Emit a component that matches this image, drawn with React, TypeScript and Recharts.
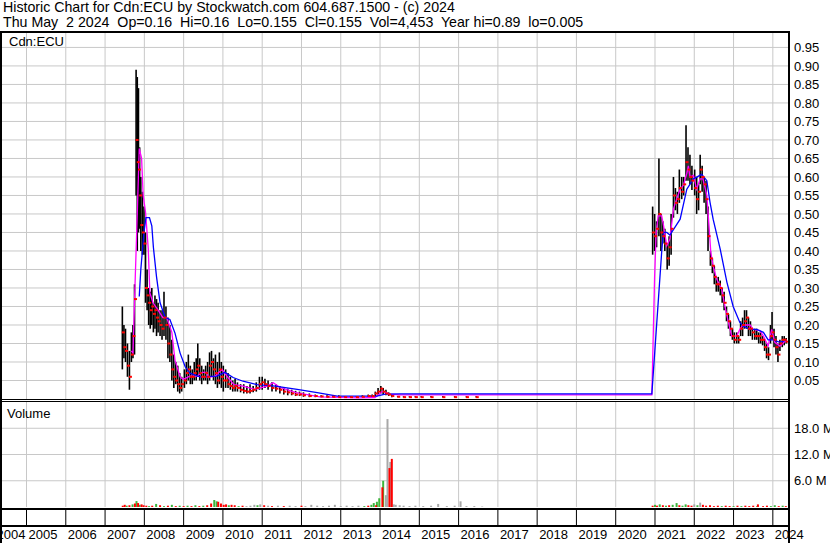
import React from 'react';
import { ComposedChart, Line, Scatter, ErrorBar, XAxis, YAxis, CartesianGrid } from 'recharts';

const FONT = 'Arial, "Liberation Sans", sans-serif';

// time axis, fractional years (left edge ~May 2004, right edge ~May 2024)
const T_MIN = 2004.376;
const T_MAX = 2024.386;
const years = [2005, 2006, 2007, 2008, 2009, 2010, 2011, 2012, 2013, 2014, 2015, 2016, 2017, 2018, 2019, 2020, 2021, 2022, 2023, 2024];
const priceTicks = [0.05, 0.1, 0.15, 0.2, 0.25, 0.3, 0.35, 0.4, 0.45, 0.5, 0.55, 0.6, 0.65, 0.7, 0.75, 0.8, 0.85, 0.9, 0.95];
const volTicks = [6, 12, 18];

// [time, high, low, close]
const bars2007 = [
  [2007.44, 0.25, 0.08, 0.18], [2007.48, 0.2, 0.11, 0.14], [2007.52, 0.19, 0.1, 0.13], [2007.57, 0.15, 0.06, 0.09],
  [2007.62, 0.13, 0.025, 0.06], [2007.67, 0.18, 0.1, 0.12], [2007.71, 0.2, 0.11, 0.17], [2007.75, 0.31, 0.12, 0.27],
  [2007.79, 0.89, 0.55, 0.7], [2007.82, 0.87, 0.4, 0.64], [2007.85, 0.84, 0.45, 0.62], [2007.88, 0.68, 0.46, 0.55],
  [2007.91, 0.6, 0.4, 0.47], [2007.95, 0.56, 0.39, 0.45], [2007.99, 0.52, 0.39, 0.42], [2008.03, 0.45, 0.26, 0.3],
  [2008.07, 0.35, 0.24, 0.28], [2008.11, 0.3, 0.2, 0.26], [2008.15, 0.29, 0.19, 0.24], [2008.19, 0.3, 0.2, 0.25],
  [2008.23, 0.26, 0.18, 0.23], [2008.27, 0.28, 0.19, 0.24], [2008.31, 0.27, 0.17, 0.22], [2008.35, 0.26, 0.18, 0.21],
  [2008.4, 0.24, 0.17, 0.2], [2008.45, 0.24, 0.16, 0.19], [2008.5, 0.29, 0.17, 0.22], [2008.55, 0.25, 0.16, 0.2],
  [2008.6, 0.22, 0.11, 0.15], [2008.65, 0.2, 0.1, 0.12], [2008.7, 0.16, 0.05, 0.08], [2008.75, 0.12, 0.03, 0.06],
  [2008.8, 0.1, 0.04, 0.05], [2008.85, 0.09, 0.02, 0.04], [2008.9, 0.07, 0.015, 0.03], [2008.95, 0.06, 0.02, 0.04],
];

const bars2009 = [
  [2009.02, 0.08, 0.03, 0.05], [2009.07, 0.1, 0.04, 0.07], [2009.12, 0.12, 0.05, 0.08], [2009.17, 0.09, 0.04, 0.06],
  [2009.22, 0.08, 0.04, 0.06], [2009.27, 0.1, 0.05, 0.07], [2009.32, 0.11, 0.05, 0.08], [2009.36, 0.15, 0.06, 0.09],
  [2009.41, 0.11, 0.05, 0.07], [2009.46, 0.09, 0.04, 0.06], [2009.51, 0.08, 0.05, 0.06], [2009.56, 0.09, 0.05, 0.07],
  [2009.61, 0.1, 0.04, 0.06], [2009.66, 0.126, 0.05, 0.09], [2009.71, 0.13, 0.06, 0.1], [2009.76, 0.11, 0.05, 0.08],
  [2009.81, 0.12, 0.04, 0.07], [2009.86, 0.1, 0.03, 0.05], [2009.91, 0.126, 0.04, 0.08], [2009.96, 0.1, 0.03, 0.06],
  [2010.01, 0.09, 0.02, 0.05], [2010.07, 0.08, 0.03, 0.05], [2010.13, 0.07, 0.03, 0.04], [2010.19, 0.06, 0.025, 0.035],
  [2010.25, 0.05, 0.02, 0.03], [2010.31, 0.055, 0.02, 0.035], [2010.37, 0.045, 0.02, 0.03], [2010.45, 0.04, 0.018, 0.025],
  [2010.53, 0.04, 0.015, 0.022], [2010.61, 0.035, 0.015, 0.02], [2010.69, 0.04, 0.015, 0.022], [2010.77, 0.035, 0.018, 0.025],
  [2010.85, 0.045, 0.02, 0.03], [2010.93, 0.06, 0.025, 0.04], [2011.0, 0.06, 0.025, 0.045], [2011.07, 0.055, 0.03, 0.04],
  [2011.15, 0.05, 0.025, 0.035], [2011.25, 0.045, 0.02, 0.03], [2011.35, 0.04, 0.02, 0.028], [2011.45, 0.035, 0.015, 0.025],
  [2011.55, 0.03, 0.012, 0.02], [2011.65, 0.028, 0.01, 0.018], [2011.75, 0.025, 0.01, 0.015], [2011.85, 0.022, 0.008, 0.012],
  [2011.95, 0.02, 0.008, 0.012], [2012.05, 0.018, 0.006, 0.01], [2012.2, 0.015, 0.005, 0.008], [2012.35, 0.012, 0.005, 0.008],
  [2012.5, 0.01, 0.005, 0.007], [2012.65, 0.01, 0.004, 0.006], [2012.8, 0.01, 0.004, 0.006], [2012.95, 0.01, 0.004, 0.005],
  [2013.1, 0.008, 0.004, 0.005], [2013.25, 0.008, 0.004, 0.005], [2013.4, 0.008, 0.004, 0.005], [2013.55, 0.01, 0.004, 0.006],
  [2013.7, 0.012, 0.005, 0.008], [2013.8, 0.012, 0.005, 0.008], [2013.88, 0.02, 0.008, 0.015], [2013.95, 0.03, 0.012, 0.02],
  [2014.02, 0.035, 0.015, 0.028], [2014.08, 0.03, 0.012, 0.02], [2014.15, 0.025, 0.01, 0.015], [2014.22, 0.018, 0.008, 0.012],
  [2014.3, 0.012, 0.005, 0.008], [2014.45, 0.008, 0.005, 0.006], [2014.6, 0.008, 0.004, 0.005], [2014.75, 0.008, 0.004, 0.005],
  [2014.9, 0.008, 0.004, 0.005], [2015.05, 0.008, 0.004, 0.005], [2015.3, 0.008, 0.004, 0.005], [2015.6, 0.008, 0.004, 0.005],
  [2015.9, 0.008, 0.004, 0.005], [2016.2, 0.008, 0.004, 0.005], [2016.45, 0.008, 0.004, 0.005],
];

const bars2020 = [
  [2020.94, 0.52, 0.39, 0.45], [2020.99, 0.5, 0.4, 0.44], [2021.04, 0.48, 0.41, 0.46], [2021.1, 0.65, 0.44, 0.5],
  [2021.15, 0.5, 0.4, 0.45], [2021.2, 0.48, 0.42, 0.44], [2021.25, 0.46, 0.4, 0.42], [2021.31, 0.42, 0.35, 0.38],
  [2021.36, 0.44, 0.36, 0.41], [2021.41, 0.5, 0.39, 0.46], [2021.47, 0.6, 0.49, 0.55], [2021.52, 0.57, 0.51, 0.53],
  [2021.57, 0.56, 0.5, 0.54], [2021.62, 0.62, 0.53, 0.57], [2021.68, 0.6, 0.54, 0.56], [2021.73, 0.6, 0.55, 0.58],
  [2021.79, 0.74, 0.59, 0.64], [2021.84, 0.68, 0.59, 0.62], [2021.89, 0.66, 0.58, 0.6], [2021.94, 0.63, 0.565, 0.59],
  [2022.01, 0.62, 0.55, 0.57], [2022.06, 0.6, 0.5, 0.54], [2022.11, 0.58, 0.51, 0.56], [2022.15, 0.66, 0.58, 0.62],
  [2022.2, 0.63, 0.56, 0.6], [2022.25, 0.6, 0.53, 0.58], [2022.3, 0.59, 0.5, 0.54], [2022.35, 0.52, 0.4, 0.44],
  [2022.41, 0.4, 0.36, 0.38], [2022.46, 0.38, 0.34, 0.36], [2022.51, 0.36, 0.31, 0.33], [2022.56, 0.33, 0.29, 0.31],
  [2022.61, 0.33, 0.29, 0.31], [2022.66, 0.32, 0.28, 0.3], [2022.71, 0.3, 0.26, 0.28], [2022.76, 0.29, 0.24, 0.26],
  [2022.82, 0.25, 0.21, 0.23], [2022.87, 0.23, 0.19, 0.21], [2022.92, 0.21, 0.17, 0.19], [2022.97, 0.19, 0.16, 0.17],
  [2023.02, 0.18, 0.15, 0.16], [2023.08, 0.18, 0.15, 0.17], [2023.13, 0.17, 0.15, 0.16], [2023.18, 0.21, 0.17, 0.19],
  [2023.23, 0.22, 0.17, 0.2], [2023.28, 0.24, 0.19, 0.21], [2023.33, 0.24, 0.19, 0.22], [2023.38, 0.22, 0.17, 0.19],
  [2023.43, 0.21, 0.17, 0.19], [2023.48, 0.19, 0.16, 0.18], [2023.54, 0.19, 0.16, 0.17], [2023.59, 0.19, 0.16, 0.17],
  [2023.64, 0.18, 0.15, 0.17], [2023.69, 0.18, 0.15, 0.16], [2023.74, 0.17, 0.145, 0.16], [2023.79, 0.16, 0.13, 0.14],
  [2023.84, 0.15, 0.11, 0.12], [2023.89, 0.14, 0.105, 0.12], [2023.94, 0.2, 0.15, 0.17], [2023.98, 0.235, 0.16, 0.18],
  [2024.03, 0.19, 0.14, 0.16], [2024.08, 0.17, 0.12, 0.14], [2024.13, 0.15, 0.1, 0.12], [2024.18, 0.16, 0.13, 0.15],
  [2024.24, 0.17, 0.14, 0.16], [2024.29, 0.17, 0.145, 0.16], [2024.34, 0.165, 0.15, 0.155],
];

// moving averages [time, value]
const fastMa = [
  [2007.67, 0.13], [2007.71, 0.124], [2007.76, 0.3], [2007.81, 0.468], [2007.87, 0.677], [2007.93, 0.65],
  [2007.97, 0.55], [2008.03, 0.505], [2008.1, 0.405], [2008.14, 0.287], [2008.22, 0.26], [2008.35, 0.24],
  [2008.47, 0.22], [2008.57, 0.22], [2008.7, 0.18], [2008.78, 0.105], [2008.91, 0.06], [2008.99, 0.053],
  [2009.16, 0.062], [2009.34, 0.062], [2009.47, 0.072], [2009.6, 0.072], [2009.62, 0.058], [2009.8, 0.062],
  [2009.98, 0.08], [2010.1, 0.062], [2010.28, 0.039], [2010.51, 0.035], [2010.82, 0.026], [2011.12, 0.035],
  [2011.28, 0.044], [2011.46, 0.031], [2011.86, 0.017], [2012.47, 0.006], [2013.49, 0.003], [2013.87, 0.004],
  [2014.07, 0.021], [2014.25, 0.013], [2014.5, 0.011], [2020.92, 0.011], [2020.99, 0.33], [2021.03, 0.45],
  [2021.08, 0.495], [2021.17, 0.495], [2021.21, 0.473], [2021.3, 0.414], [2021.38, 0.432], [2021.47, 0.513],
  [2021.55, 0.54], [2021.64, 0.567], [2021.72, 0.577], [2021.81, 0.61], [2021.85, 0.63], [2021.89, 0.6],
  [2021.98, 0.604], [2022.06, 0.567], [2022.15, 0.595], [2022.22, 0.595], [2022.32, 0.55], [2022.38, 0.46],
  [2022.42, 0.397], [2022.48, 0.36], [2022.57, 0.324], [2022.7, 0.297], [2022.78, 0.25], [2022.87, 0.207],
  [2022.95, 0.17], [2023.08, 0.17], [2023.16, 0.188], [2023.24, 0.2], [2023.42, 0.2], [2023.5, 0.188],
  [2023.67, 0.185], [2023.76, 0.17], [2023.88, 0.143], [2023.97, 0.188], [2024.05, 0.153], [2024.18, 0.143],
  [2024.35, 0.16],
];

const slowMa = [
  [2007.87, 0.277], [2007.91, 0.35], [2007.99, 0.45], [2008.04, 0.49], [2008.13, 0.49], [2008.19, 0.468],
  [2008.23, 0.41], [2008.31, 0.33], [2008.4, 0.26], [2008.53, 0.22], [2008.65, 0.215], [2008.78, 0.178],
  [2008.91, 0.124], [2009.04, 0.087], [2009.16, 0.07], [2009.42, 0.06], [2009.85, 0.062], [2010.05, 0.072],
  [2010.26, 0.058], [2010.51, 0.048], [2010.87, 0.039], [2011.33, 0.035], [2011.89, 0.026], [2012.4, 0.017],
  [2012.91, 0.008], [2013.92, 0.008], [2014.13, 0.013], [2014.5, 0.014], [2020.92, 0.014], [2021.17, 0.397],
  [2021.21, 0.45], [2021.3, 0.45], [2021.38, 0.443], [2021.64, 0.486], [2021.81, 0.567], [2021.98, 0.595],
  [2022.19, 0.607], [2022.32, 0.59], [2022.4, 0.532], [2022.48, 0.486], [2022.66, 0.405], [2022.83, 0.316],
  [2022.99, 0.25], [2023.16, 0.207], [2023.25, 0.197], [2023.42, 0.188], [2023.59, 0.188], [2023.76, 0.18],
  [2023.88, 0.16], [2024.01, 0.16], [2024.18, 0.153], [2024.35, 0.16],
];

// volume in millions [time, volume]
const volUp = [
  [2007.55, 0.3], [2007.7, 0.6], [2007.8, 1.35], [2007.88, 0.5], [2008.12, 0.2], [2008.3, 0.7], [2008.5, 0.2],
  [2008.7, 0.5], [2008.9, 0.3], [2009.1, 0.3], [2009.3, 0.4], [2009.5, 0.3], [2009.78, 1.6], [2009.84, 1.3],
  [2010.15, 0.4], [2010.4, 0.2], [2010.88, 0.4], [2013.6, 0.2], [2013.78, 0.5], [2013.84, 0.9], [2013.92, 1.2],
  [2013.98, 2.0], [2014.08, 6.0], [2021.0, 0.5], [2021.12, 0.6], [2021.28, 0.3], [2021.45, 0.5], [2021.55, 0.9],
  [2021.7, 0.3], [2021.78, 0.6], [2022.08, 0.4], [2022.7, 0.2], [2023.0, 0.2], [2023.2, 0.2], [2023.6, 0.2],
  [2023.95, 0.2], [2024.05, 0.4], [2024.25, 0.3],
];

const volDown = [
  [2007.45, 0.3], [2007.5, 0.5], [2007.62, 0.4], [2007.76, 0.8], [2007.84, 0.9], [2007.93, 0.6], [2007.98, 0.4],
  [2008.05, 0.3], [2008.2, 0.3], [2008.4, 0.4], [2008.6, 0.3], [2008.8, 0.2], [2009.0, 0.2], [2009.2, 0.2],
  [2009.4, 0.2], [2009.6, 0.4], [2009.7, 0.8], [2009.88, 1.2], [2009.95, 0.8], [2010.02, 0.5], [2010.08, 0.6],
  [2010.22, 0.5], [2010.3, 0.4], [2010.5, 0.3], [2011.05, 0.4], [2011.25, 0.2], [2011.55, 0.2], [2012.0, 0.3],
  [2013.7, 0.3], [2013.9, 0.4], [2014.06, 4.5], [2014.24, 8.9], [2014.3, 11.0], [2020.94, 0.3], [2021.05, 0.3],
  [2021.2, 0.4], [2021.36, 0.4], [2021.62, 0.4], [2021.85, 0.4], [2021.93, 0.3], [2022.22, 0.5], [2022.3, 0.3],
  [2022.4, 0.4], [2022.5, 0.2], [2022.6, 0.3], [2022.8, 0.3], [2022.9, 0.2], [2023.1, 0.3], [2023.3, 0.3],
  [2023.4, 0.2], [2023.5, 0.3], [2023.62, 0.6], [2023.75, 0.2], [2023.85, 0.3], [2024.15, 0.2], [2024.33, 0.2],
];

const volFlat = [
  [2010.6, 0.2], [2010.7, 0.3], [2010.8, 0.5], [2010.95, 0.6], [2011.15, 0.3], [2011.4, 0.3], [2011.7, 0.3],
  [2011.85, 0.2], [2012.1, 0.2], [2012.25, 0.5], [2012.4, 0.3], [2012.55, 0.2], [2012.7, 0.3], [2012.85, 0.5],
  [2013.0, 0.2], [2013.15, 0.3], [2013.3, 0.2], [2013.45, 0.3], [2014.15, 2.7], [2014.19, 20.1], [2014.26, 10.3],
  [2014.35, 0.6], [2014.4, 0.5], [2014.5, 0.4], [2014.6, 0.3], [2014.75, 0.2], [2014.9, 0.3], [2015.1, 0.2],
  [2015.3, 0.3], [2015.48, 0.7], [2015.7, 0.2], [2015.9, 0.3], [2016.05, 1.3], [2016.2, 0.2], [2016.4, 0.2],
  [2016.6, 0.1], [2022.0, 0.6], [2022.15, 1.0],
];

const priceRows = [...bars2007, ...bars2009, ...bars2020].map(([t, h, l, c]) => ({ t, c, err: [c - l, h - c] }));
const lineRows = (pts: number[][]) => pts.map(([t, v]) => ({ t, v }));
const volRows = (pts: number[][]) => pts.map(([t, v]) => ({ t, v, err: [v, 0] }));

const CloseMark = (p: any) => <rect x={p.cx - 0.5} y={p.cy - 1} width={3} height={2} fill="#FF0000" />;
const NoMark = () => <g />;

function YearTick({ x, y, payload }: any) {
  const yr = payload.value;
  return (
    <g>
      <line x1={x} x2={x} y1={y + 3} y2={y + 18} stroke="#000" />
      <text x={x + 2} y={y + 32} fontSize={13} fontFamily={FONT} fill="#000">{yr}</text>
      {yr === 2005 && (
        <text x={x - 1} y={y + 32} fontSize={13} fontFamily={FONT} fill="#000" textAnchor="end">2004</text>
      )}
    </g>
  );
}

function ValueTick({ x, y, payload, unit }: any) {
  const label = unit ? `${payload.value.toFixed(1)} M` : payload.value.toFixed(2);
  return (
    <text x={x} y={y} dy="0.355em" fontSize={13} fontFamily={FONT} fill="#000" textAnchor="start">{label}</text>
  );
}

const hline = (top: number, h: number) => (
  <div style={{ position: 'absolute', left: 0, top, width: 790, height: h, background: '#000' }} />
);

export default function App() {
  return (
    <div style={{ position: 'absolute', left: 0, top: 0, width: 830, height: 543, background: '#fff', overflow: 'hidden', fontFamily: FONT }}>
      <div style={{ position: 'absolute', left: 3, top: 0, fontSize: 14.2, lineHeight: '15px', whiteSpace: 'pre', color: '#000' }}>
        {'Historic Chart for Cdn:ECU by Stockwatch.com 604.687.1500 - (c) 2024\nThu May  2 2024  Op=0.16  Hi=0.16  Lo=0.155  Cl=0.155  Vol=4,453  Year hi=0.89  lo=0.005'}
      </div>

      <div style={{ position: 'absolute', left: 0, top: 33 }}>
        <ComposedChart width={830} height={366} margin={{ top: 0, right: 0, bottom: 0, left: 2 }}>
          <CartesianGrid stroke="#C8C8C8" horizontalValues={priceTicks} verticalValues={years} />
          <XAxis dataKey="t" type="number" domain={[T_MIN, T_MAX]} ticks={years} allowDataOverflow hide height={0} />
          <YAxis
            orientation="right"
            width={42}
            type="number"
            domain={[0, 0.989]}
            ticks={priceTicks}
            allowDataOverflow
            axisLine={false}
            tickLine={false}
            tickSize={4}
            tickMargin={2}
            interval={0}
            tick={<ValueTick />}
          />
          <Scatter data={priceRows} dataKey="c" shape={CloseMark} isAnimationActive={false}>
            <ErrorBar dataKey="err" direction="y" width={0} stroke="#000" strokeWidth={1.6} />
          </Scatter>
          <Line data={lineRows(fastMa)} dataKey="v" type="linear" stroke="#FF00FF" strokeWidth={1.3} dot={false} isAnimationActive={false} />
          <Line data={lineRows(slowMa)} dataKey="v" type="linear" stroke="#0000FF" strokeWidth={1.3} dot={false} isAnimationActive={false} />
        </ComposedChart>
      </div>

      <div style={{ position: 'absolute', left: 0, top: 402 }}>
        <ComposedChart width={830} height={141} margin={{ top: 0, right: 0, bottom: 0, left: 2 }}>
          <CartesianGrid stroke="#C8C8C8" horizontalValues={volTicks} verticalValues={years} />
          <XAxis
            dataKey="t"
            type="number"
            domain={[T_MIN, T_MAX]}
            ticks={years}
            interval={0}
            allowDataOverflow
            height={36}
            axisLine={false}
            tickLine={false}
            tickSize={0}
            tickMargin={0}
            tick={<YearTick />}
          />
          <YAxis
            orientation="right"
            width={42}
            type="number"
            domain={[0, 24]}
            ticks={volTicks}
            allowDataOverflow
            axisLine={false}
            tickLine={false}
            tickSize={4}
            tickMargin={2}
            interval={0}
            tick={<ValueTick unit />}
          />
          <Scatter data={volRows(volFlat)} dataKey="v" shape={NoMark} isAnimationActive={false}>
            <ErrorBar dataKey="err" direction="y" width={0} stroke="#A8A8A8" strokeWidth={2} />
          </Scatter>
          <Scatter data={volRows(volUp)} dataKey="v" shape={NoMark} isAnimationActive={false}>
            <ErrorBar dataKey="err" direction="y" width={0} stroke="#3CB43C" strokeWidth={2} />
          </Scatter>
          <Scatter data={volRows(volDown)} dataKey="v" shape={NoMark} isAnimationActive={false}>
            <ErrorBar dataKey="err" direction="y" width={0} stroke="#FF0000" strokeWidth={2} />
          </Scatter>
        </ComposedChart>
      </div>

      {/* panel frames */}
      {hline(31, 2)}
      {hline(399, 1)}
      {hline(401, 1)}
      {hline(508, 2)}
      {hline(525, 2)}
      <div style={{ position: 'absolute', left: 0, top: 31, width: 2, height: 512, background: '#000' }} />
      <div style={{ position: 'absolute', left: 788, top: 31, width: 2, height: 512, background: '#000' }} />

      <div style={{ position: 'absolute', left: 9, top: 34, fontSize: 13, lineHeight: '15px', color: '#000' }}>Cdn:ECU</div>
      <div style={{ position: 'absolute', left: 7, top: 406, fontSize: 13, lineHeight: '15px', color: '#000' }}>Volume</div>
    </div>
  );
}
